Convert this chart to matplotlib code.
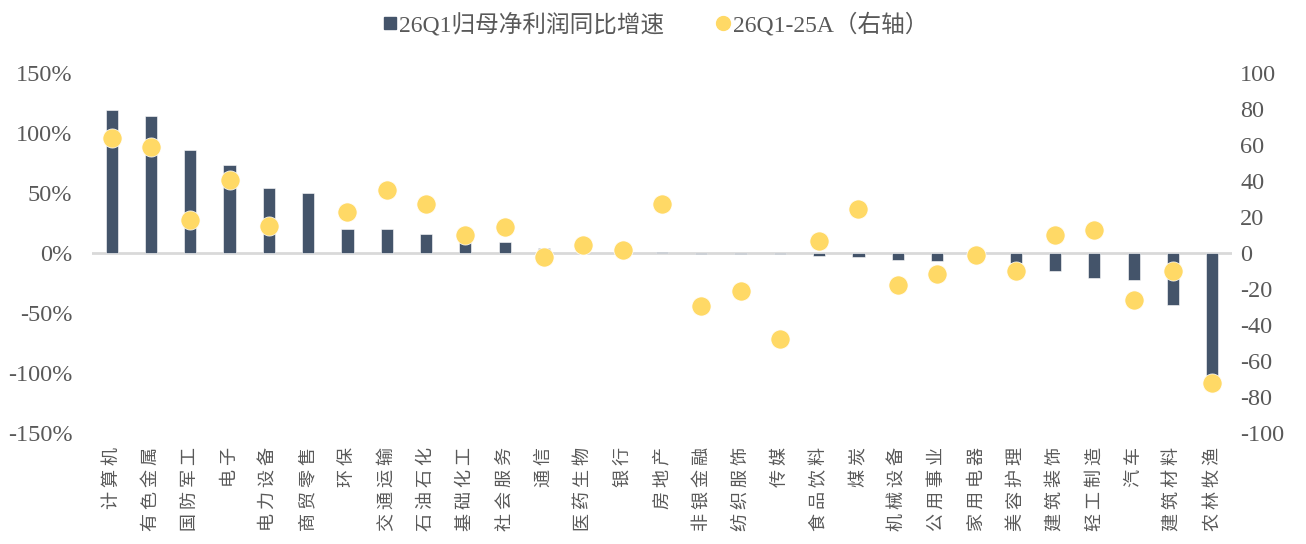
import matplotlib.pyplot as plt
from matplotlib.lines import Line2D
import numpy as np

# 行业名称
industries = ["计算机", "有色金属", "国防军工", "电子", "电力设备", "商贸零售", "环保",
              "交通运输", "石油石化", "基础化工", "社会服务", "通信", "医药生物", "银行",
              "房地产", "非银金融", "纺织服饰", "传媒", "食品饮料", "煤炭", "机械设备",
              "公用事业", "家用电器", "美容护理", "建筑装饰", "轻工制造", "汽车",
              "建筑材料", "农林牧渔"]

# 26Q1归母净利润同比增速 (%)
growth = [119, 114, 85.5, 73, 54, 50, 20, 19.7, 15.5, 11, 8.9, 4.4, 1.0, 0.5,
          0.8, -0.8, -0.8, -0.8, -2.5, -3, -5.5, -7, -6, -8, -15, -21, -22.5,
          -43.5, -105]

# 26Q1-25A（右轴）
diff = [63.7, 58.7, 18.3, 40.7, 15, np.nan, 23, 34.8, 27, 10, 14.5, -2.2, 4.4,
        1.5, 27, -29.6, -21.3, -47.6, 6.9, 24.3, -18, -11.9, -1.1, -9.8, 10,
        12.6, -26, -10.2, -72]

left_ticks = [150, 100, 50, 0, -50, -100, -150]
right_ticks = [100, 80, 60, 40, 20, 0, -20, -40, -60, -80, -100]

bar_color = "#44546A"
dot_color = "#FFD966"
text_color = "#595959"
num_font = ["Liberation Serif", "Noto Sans CJK SC", "DejaVu Sans"]
cjk_font = ["Noto Sans CJK SC", "DejaVu Sans"]

fig = plt.figure(figsize=(13.06, 5.44), dpi=100)
ax = fig.add_axes([0.0704, 0.204, 0.8729, 0.6618])
ax2 = ax.twinx()

x = np.arange(len(industries))
ax.axhline(0, color="#D9D9D9", lw=2, zorder=1)
ax.bar(x, growth, width=0.31, color=bar_color, edgecolor="white", linewidth=0.4, zorder=2)
ax2.scatter(x, diff, s=190, color=dot_color, edgecolors="white", linewidths=0.5, zorder=3)

ax.set_xlim(-0.5, len(industries) - 0.5)
ax.set_ylim(-150, 150)
ax2.set_ylim(-100, 100)

ax.set_yticks(left_ticks)
ax.set_yticklabels([f"{v}%" for v in left_ticks], fontsize=17.5, family=num_font, color=text_color)
ax2.set_yticks(right_ticks)
ax2.set_yticklabels([str(v) for v in right_ticks], fontsize=17.5, family=num_font, color=text_color)

ax.set_xticks(x)
ax.set_xticklabels([" ".join(name) for name in industries], rotation=90, fontsize=13,
                   family=cjk_font, color=text_color, va="top", ha="center")

for a in (ax, ax2):
    for s in a.spines.values():
        s.set_visible(False)
    a.tick_params(length=0)
ax.tick_params(axis="y", pad=14)
ax2.tick_params(axis="y", pad=6)
ax.tick_params(axis="x", pad=10)

handles = [
    Line2D([], [], marker="s", linestyle="none", markersize=9, color=bar_color),
    Line2D([], [], marker="o", linestyle="none", markersize=10, color=dot_color),
]
labels = ["26Q1归母净利润同比增速", "26Q1-25A（右轴）"]
fig.legend(handles, labels, loc="center", bbox_to_anchor=(0.5, 0.955), ncol=2, frameon=False,
           prop={"family": num_font, "size": 17}, labelcolor=text_color,
           handletextpad=-0.1, columnspacing=2.0, handlelength=1.0)

fig.savefig("out.png", dpi=100)
